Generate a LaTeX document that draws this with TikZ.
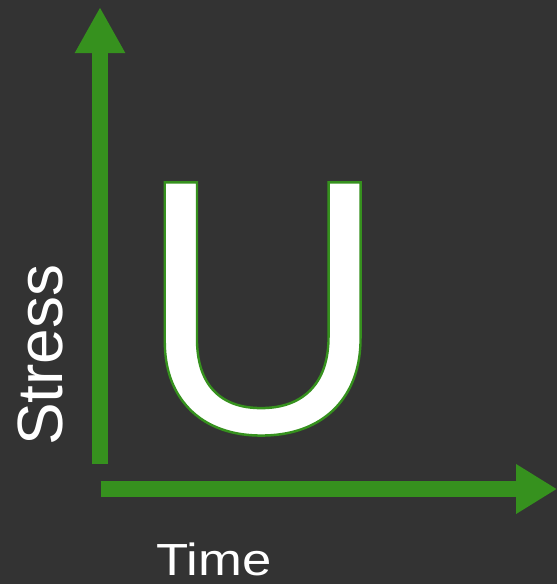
\documentclass[tikz,border=0pt]{standalone}
\usepackage{fontspec}
\setmainfont{Liberation Sans}
\usetikzlibrary{arrows.meta}
\definecolor{bg}{RGB}{51,51,51}
\definecolor{axisgreen}{RGB}{54,145,30}
\newcommand{\outlined}[1]{\special{pdf:literal direct 0.212 0.569 0.118 RG 2.4 w 2 Tr}#1\special{pdf:literal direct 0 Tr}}

\begin{document}
\begin{tikzpicture}[x=1pt,y=-1pt,
    axisarrow/.style={draw=axisgreen,line width=16pt,-{Triangle[length=46pt,width=47pt]}},
    axistext/.style={text=white,inner sep=0pt,anchor=base west}]
  \fill[bg] (0,0) rectangle (557,584);
  \useasboundingbox (0,0) rectangle (557,584);
  \coordinate (o-y) at (100,464);
  \coordinate (top) at (100,7);
  \coordinate (o-x) at (100.5,489);
  \coordinate (right) at (557,489);
  \draw[axisarrow] (o-y) -- (top);
  \draw[axisarrow,-{Triangle[length=41pt,width=47pt]}] (o-x) -- (right);
  \node[axistext,rotate=90,font=\fontsize{64}{64}\selectfont] (stress) at (62,446) {Stress};
  \node[axistext,font=\fontsize{45}{45}\selectfont,xscale=1.17,transform shape] (time) at (156,575) {Time};
  \node[axistext,font=\fontsize{350}{350}\selectfont,xscale=0.985,yscale=1.037,transform shape] (u) at (138,432) {\outlined{U}};
\end{tikzpicture}
\end{document}
